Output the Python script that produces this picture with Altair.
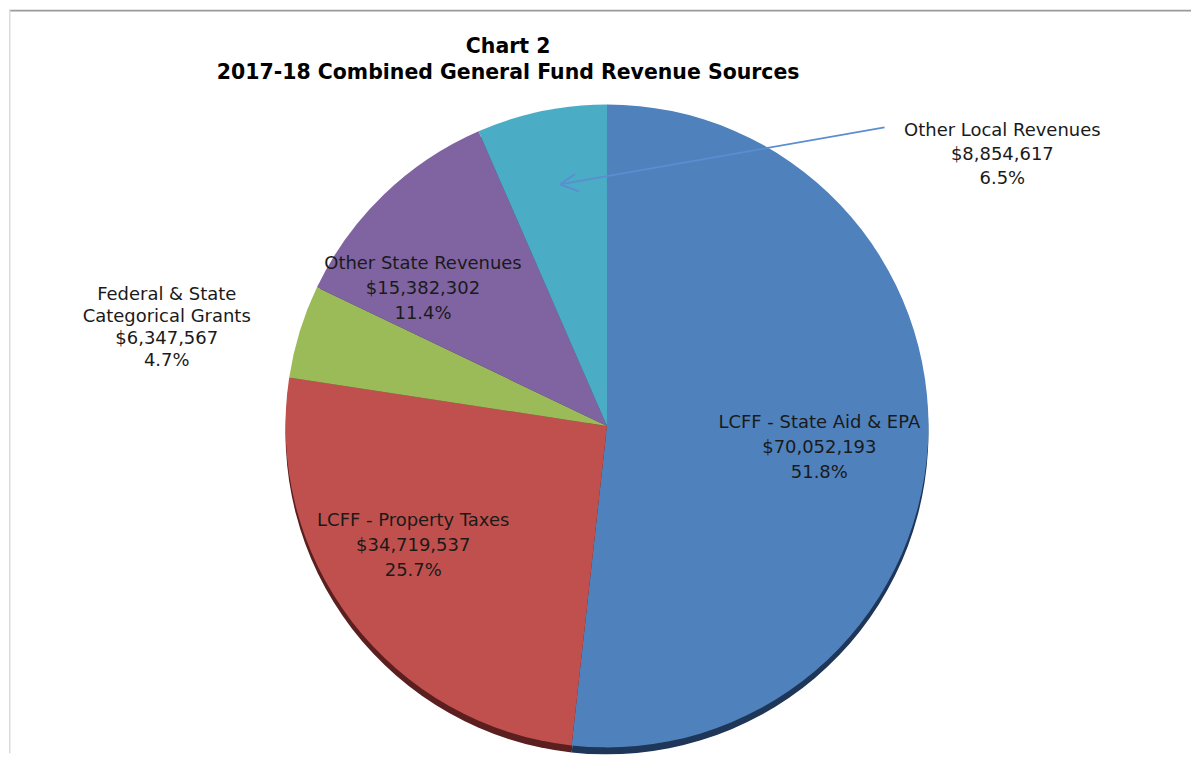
import altair as alt
import pandas as pd

# ---- data ----
categories = [
    "LCFF - State Aid & EPA",
    "LCFF - Property Taxes",
    "Federal & State Categorical Grants",
    "Other State Revenues",
    "Other Local Revenues",
]
label_names = [
    "LCFF - State Aid & EPA",
    "LCFF - Property Taxes",
    "Federal & State\nCategorical Grants",
    "Other State Revenues",
    "Other Local Revenues",
]
amounts = [70052193, 34719537, 6347567, 15382302, 8854617]
amount_labels = ["$70,052,193", "$34,719,537", "$6,347,567", "$15,382,302", "$8,854,617"]
pct_labels = ["51.8%", "25.7%", "4.7%", "11.4%", "6.5%"]
title_lines = ["Chart 2", "2017-18 Combined General Fund Revenue Sources"]

# ---- styles ----
colors = ["#4F81BD", "#C0504D", "#9BBB59", "#8064A2", "#4BACC6"]
shadow_colors = ["#1E3657", "#5A1F1E", "#4A5C2A", "#3D2F50", "#22525E"]
FONT = "DejaVu Sans"
TXT = "#1a1a1a"

total = sum(amounts)
cum = []
run = 0
for a in amounts:
    cum.append(run + a / 2)
    run += a

df = pd.DataFrame({
    "category": categories,
    "amount": amounts,
    "order": list(range(len(categories))),
    "mid": cum,
    "label": [f"{n}\n{a}\n{p}" for n, a, p in zip(label_names, amount_labels, pct_labels)],
})

W, H = 1184, 745
CX, CY, R = 599, 417, 322
DX0, DY0 = CX - W / 2, CY - H / 2

base = alt.Chart(df)

shadow = base.mark_arc(outerRadius=R).encode(
    theta=alt.Theta("amount:Q", stack=True),
    order=alt.Order("order:Q"),
    color=alt.Color("category:N", scale=alt.Scale(domain=categories, range=shadow_colors), legend=None),
    x=alt.value(CX),
    y=alt.value(CY + 7),
)

pie = base.mark_arc(outerRadius=R).encode(
    theta=alt.Theta("amount:Q", stack=True),
    order=alt.Order("order:Q"),
    color=alt.Color("category:N", scale=alt.Scale(domain=categories, range=colors), legend=None),
    x=alt.value(CX),
    y=alt.value(CY),
)


def inner_label(cat, radius, dx, dy):
    return base.transform_filter(alt.datum.category == cat).mark_text(
        radius=radius, dx=DX0 + dx, dy=DY0 + dy, font=FONT, fontSize=18,
        lineHeight=25, lineBreak="\n", color=TXT, align="center", baseline="middle",
    ).encode(theta=alt.Theta("mid:Q", stack=None), text="label:N")


lab_aid = inner_label(categories[0], 205, 8, -14)
lab_prop = inner_label(categories[1], 222, -18, -40)
lab_state = inner_label(categories[3], 225, -28, 0)

lab_fed = base.transform_filter(alt.datum.category == categories[2]).mark_text(
    font=FONT, fontSize=18, lineHeight=22, lineBreak="\n", color=TXT,
    align="center", baseline="middle",
).encode(text="label:N", x=alt.value(158), y=alt.value(286))

lab_local = base.transform_filter(alt.datum.category == categories[4]).mark_text(
    font=FONT, fontSize=18, lineHeight=24, lineBreak="\n", color=TXT,
    align="center", baseline="middle",
).encode(text="label:N", x=alt.value(995), y=alt.value(122))

title = alt.Chart(pd.DataFrame({"t": ["\n".join(title_lines)]})).mark_text(
    font=FONT, fontSize=20.5, fontWeight="bold", lineHeight=26, lineBreak="\n",
    color="#000000", align="center", baseline="middle",
).encode(text="t:N", x=alt.value(500), y=alt.value(37))

one = pd.DataFrame({"k": [0]})
arrow_color = "#5B8ED0"
arrow_line = alt.Chart(one).mark_rule(color=arrow_color, strokeWidth=1.8).encode(
    x=alt.value(877), y=alt.value(118), x2=alt.value(552), y2=alt.value(175))
arrow_a = alt.Chart(one).mark_rule(color=arrow_color, strokeWidth=1.8).encode(
    x=alt.value(552), y=alt.value(175), x2=alt.value(567), y2=alt.value(165))
arrow_b = alt.Chart(one).mark_rule(color=arrow_color, strokeWidth=1.8).encode(
    x=alt.value(552), y=alt.value(175), x2=alt.value(571), y2=alt.value(182))

top_border = alt.Chart(one).mark_rule(color="#9a9a9a", strokeWidth=2).encode(
    x=alt.value(0), x2=alt.value(W), y=alt.value(1))
left_border = alt.Chart(one).mark_rule(color="#dadada", strokeWidth=1.5).encode(
    x=alt.value(0.75), y=alt.value(0), y2=alt.value(H))

chart = alt.layer(
    top_border, left_border, shadow, pie,
    lab_aid, lab_prop, lab_state, lab_fed, lab_local,
    title, arrow_line, arrow_a, arrow_b,
).resolve_scale(color="independent").properties(
    width=W, height=H, padding=0, background="#ffffff"
).configure_view(strokeWidth=0)

chart.save("out.html", embed_options={"renderer": "svg", "actions": False})
